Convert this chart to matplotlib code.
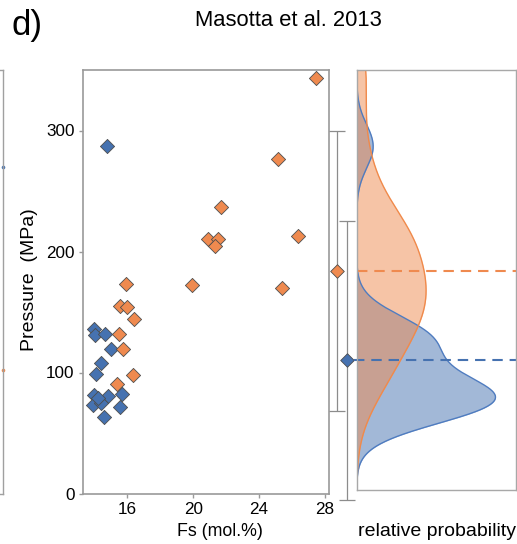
import numpy as np
import matplotlib
matplotlib.use("Agg")
import matplotlib.pyplot as plt

plt.rcParams['font.family'] = ['Liberation Sans', 'DejaVu Sans']

# ---------------- data ----------------
blue_fs = [14.73, 13.95, 14.01, 14.63, 14.98, 14.37, 14.09, 13.99, 14.80, 15.68,
           13.91, 14.39, 15.52, 14.55, 14.19]
blue_p = [286.9, 135.7, 131.0, 131.8, 119.4, 108.1, 98.5, 81.7, 80.6, 82.0,
          73.4, 74.5, 71.2, 63.5, 78.9]

orange_fs = [15.88, 19.90, 25.38, 15.56, 15.98, 16.38, 15.48, 15.70, 16.34, 15.38,
             27.45, 25.16, 21.70, 20.88, 21.54, 21.30, 26.40]
orange_p = [173.1, 172.1, 170.1, 155.0, 153.9, 144.0, 132.1, 119.2, 97.9, 90.7,
            343.4, 276.2, 237.0, 210.3, 210.3, 204.8, 213.1]

group_means = [184, 110]        # orange, blue
group_errs = [116, 115]
kde_bandwidths = [30, 18]       # orange, blue
left_panel_marks = [269.8, 102.3]  # blue, orange (edge of previous panel)

x_ticks = [16, 20, 24, 28]
y_ticks = [0, 100, 200, 300]

BLUE = '#4672b0'
ORANGE = '#ef8a4f'
BLUE_EDGE = '#4f7cc0'
ORANGE_EDGE = '#f08a4b'
GRID = '#9a9a9a'

W, H = 517, 544
fig = plt.figure(figsize=(W / 100, H / 100), dpi=100)


def fx(px):
    return px / W


def fy(py):
    return 1 - py / H


def style_frame(ax, color=GRID, lw=1.2):
    for s in ax.spines.values():
        s.set_color(color)
        s.set_linewidth(lw)


# ---------------- left partial panel ----------------
axl = fig.add_axes([-0.1, fy(493.5), 0.1 + fx(3.3), fy(70) - fy(493.5)])
axl.set_ylim(0, 350)
axl.set_xlim(0, 1)
axl.set_xticks([])
axl.set_yticks([])
style_frame(axl, '#a0a0a0', 1.0)
axl.plot([0.995], [left_panel_marks[0]], 'o', ms=1.6, color=BLUE, clip_on=False)
axl.plot([0.995], [left_panel_marks[1]], 'o', ms=1.6, color=ORANGE, clip_on=False)

# ---------------- main scatter ----------------
ax = fig.add_axes([fx(83), fy(493.5), fx(329.3) - fx(83), fy(70) - fy(493.5)])
ax.scatter(blue_fs, blue_p, marker='D', s=52, color=BLUE, edgecolor='#4d4d4d',
           linewidth=0.6, zorder=3)
ax.scatter(orange_fs, orange_p, marker='D', s=52, color=ORANGE, edgecolor='#4d4d4d',
           linewidth=0.6, zorder=3)
ax.set_xlim(13.29, 28.29)
ax.set_ylim(0, 350)
ax.set_xticks(x_ticks)
ax.set_yticks(y_ticks)
ax.tick_params(direction='out', length=3, width=1, color=GRID, labelsize=12.3, pad=3)
style_frame(ax)

# ---------------- error bar strip ----------------
axe = fig.add_axes([fx(329.3), fy(493.5), fx(356.7) - fx(329.3), fy(70) - fy(493.5)])
axe.set_xlim(0, 1)
axe.set_ylim(0, 350)
axe.axis('off')
ex = [0.28, 0.66]
cols = [ORANGE, BLUE]
for xi, m, e, c in zip(ex, group_means, group_errs, cols):
    axe.errorbar([xi], [m], yerr=[e], fmt='none', ecolor='#8c8c8c', elinewidth=0.9,
                 capsize=5.5, capthick=0.9, clip_on=False)
    axe.scatter([xi], [m], marker='D', s=48, color=c, edgecolor='#4d4d4d',
                linewidth=0.6, zorder=4, clip_on=False)

# ---------------- KDE panel ----------------
axk = fig.add_axes([fx(356.7), fy(490), fx(515.5) - fx(356.7), fy(70) - fy(490)])
ygrid = np.linspace(-20, 380, 800)


def kde(vals, h):
    v = np.asarray(vals)[:, None]
    d = np.exp(-0.5 * ((ygrid[None, :] - v) / h) ** 2).sum(axis=0)
    return d / (len(vals) * h * np.sqrt(2 * np.pi))


d_orange = kde(orange_p, kde_bandwidths[0])
d_blue = kde(blue_p, kde_bandwidths[1])

axk.fill_betweenx(ygrid, 0, d_blue, color=BLUE, alpha=0.5, linewidth=0)
axk.plot(d_blue, ygrid, color=BLUE_EDGE, lw=1.0)
axk.fill_betweenx(ygrid, 0, d_orange, color=ORANGE, alpha=0.5, linewidth=0)
axk.plot(d_orange, ygrid, color=ORANGE_EDGE, lw=1.0)

axk.axhline(group_means[0], xmin=0, xmax=1, color=ORANGE, ls=(0, (5, 3.3)), lw=1.5)
axk.axhline(group_means[1], xmin=-0.02, xmax=1, color=BLUE, ls=(0, (5, 3.3)), lw=1.5,
            clip_on=False)

axk.set_ylim(2.9, 350)
axk.set_xlim(0, d_blue.max() / 0.874)
axk.set_xticks([])
axk.set_yticks([])
style_frame(axk, '#a8a8a8', 1.0)

# ---------------- texts ----------------
fig.text(fx(27), fy(26), 'd)', fontsize=25, ha='center', va='center')
fig.text(fx(288.5), fy(20), 'Masotta et al. 2013', fontsize=15.8, ha='center', va='center')
fig.text(fx(30), fy(280), 'Pressure  (MPa)', fontsize=14, rotation=90,
         ha='center', va='center')
fig.text(fx(220), fy(532), 'Fs (mol.%)', fontsize=12.8, ha='center', va='center')
fig.text(fx(437), fy(531), 'relative probability', fontsize=14, ha='center', va='center')

fig.savefig('out.png', dpi=100)
